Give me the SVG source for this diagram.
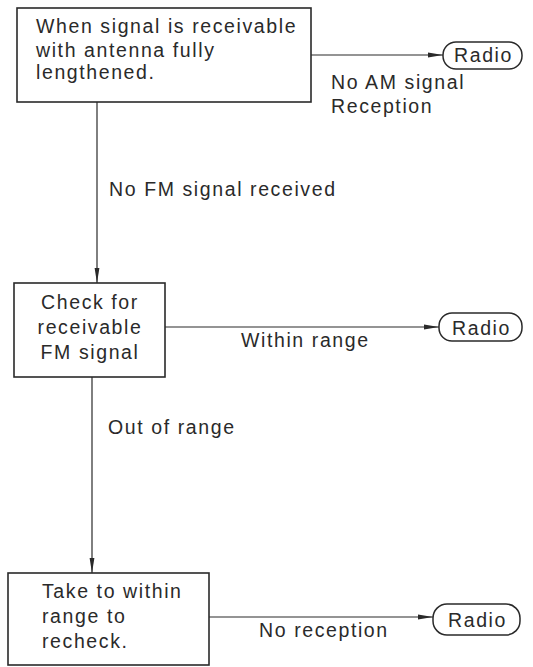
<svg xmlns="http://www.w3.org/2000/svg" width="533" height="667" viewBox="0 0 533 667">
<defs>
<marker id="arr" viewBox="0 0 15 6" refX="15" refY="3" markerWidth="15" markerHeight="6" markerUnits="userSpaceOnUse" orient="auto">
<path d="M0,0.6 L15,3 L0,5.4 Z" fill="#2a2a2a"/>
</marker>
</defs>
<style>
text{font-family:"Liberation Sans",Arial,sans-serif;font-size:19.5px;fill:#2a2a2a;letter-spacing:1.6px}
.box{fill:#fff;stroke:#2a2a2a;stroke-width:1.6}
.pill{fill:#fff;stroke:#2a2a2a;stroke-width:1.5}
.ln{fill:none;stroke:#2a2a2a;stroke-width:1.2}
</style>
<rect width="533" height="667" fill="#fff"/>
<g id="connectors">
<line class="ln" x1="311" y1="55" x2="443" y2="55" marker-end="url(#arr)"/>
<line class="ln" x1="97" y1="102" x2="97" y2="283" marker-end="url(#arr)"/>
<line class="ln" x1="165" y1="327" x2="439" y2="327" marker-end="url(#arr)"/>
<line class="ln" x1="92" y1="377" x2="92" y2="573" marker-end="url(#arr)"/>
<line class="ln" x1="209" y1="617" x2="433" y2="617" marker-end="url(#arr)"/>
<text x="331" y="89">No AM signal</text>
<text x="331" y="113">Reception</text>
<text x="109" y="196">No FM signal received</text>
<text x="241" y="347">Within range</text>
<text x="108" y="434">Out of range</text>
<text x="259" y="637">No reception</text>
</g>
<g id="box1">
<rect class="box" x="17" y="8" width="294" height="94"/>
<text x="36" y="33">When signal is receivable</text>
<text x="36" y="57">with antenna fully</text>
<text x="36" y="79">lengthened.</text>
</g>
<g id="radio1">
<rect class="pill" x="443" y="42" width="79" height="27" rx="13"/>
<text x="483.5" y="62" text-anchor="middle">Radio</text>
</g>
<g id="box2">
<rect class="box" x="14" y="283" width="151" height="94"/>
<text x="90" y="309" text-anchor="middle">Check for</text>
<text x="90" y="334" text-anchor="middle">receivable</text>
<text x="90" y="359" text-anchor="middle">FM signal</text>
</g>
<g id="radio2">
<rect class="pill" x="439" y="313" width="83" height="28" rx="13"/>
<text x="481.5" y="335" text-anchor="middle">Radio</text>
</g>
<g id="box3">
<rect class="box" x="8" y="573" width="201" height="92"/>
<text x="42" y="598">Take to within</text>
<text x="42" y="623">range to</text>
<text x="42" y="648">recheck.</text>
</g>
<g id="radio3">
<rect class="pill" x="433" y="604" width="87" height="31" rx="14"/>
<text x="477.5" y="627" text-anchor="middle">Radio</text>
</g>
</svg>
